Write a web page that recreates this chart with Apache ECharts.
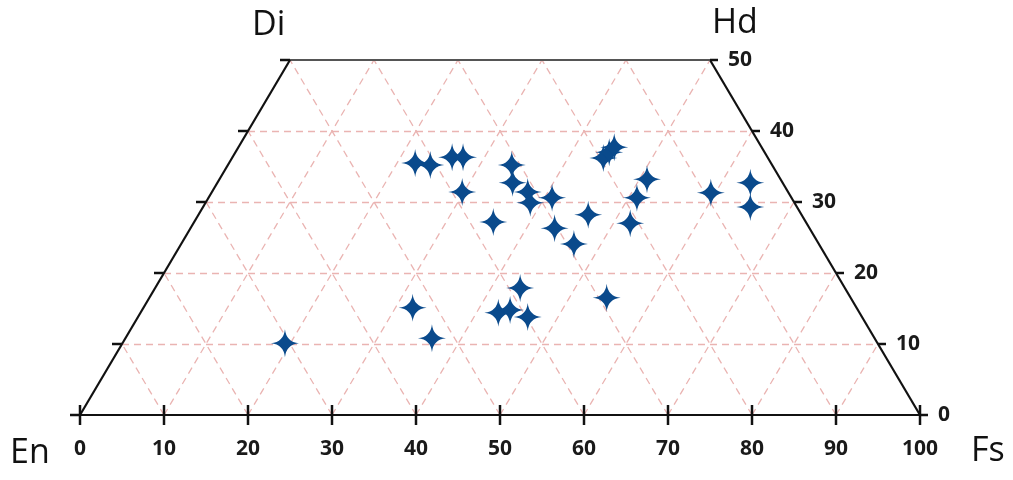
<!DOCTYPE html>
<html>
<head>
<meta charset="utf-8">
<script src="https://cdn.jsdelivr.net/npm/echarts@6/dist/echarts.min.js"></script>
<style>
  html, body { margin: 0; padding: 0; background: #fff; }
  #main { width: 1013px; height: 480px; }
</style>
</head>
<body>
<div id="main"></div>
<script>
// position along En-Fs base (0-100) and Wo content (0-50)
var samplesX = [24.4, 39.6, 41.9, 49.8, 51.2, 52.4, 53.3, 62.7,
  39.9, 41.7, 44.3, 45.6, 45.5, 49.2, 51.4, 51.5, 53.3, 53.6, 56.2, 56.5,
  58.8, 60.5, 62.3, 63.0, 63.6, 67.5, 66.3, 65.5, 75.1, 79.8, 79.8];
var samplesWo = [10.1, 15.1, 10.8, 14.4, 14.8, 17.9, 13.8, 16.5,
  35.5, 35.2, 36.3, 36.3, 31.4, 27.2, 35.2, 32.7, 31.4, 29.9, 30.6, 26.3,
  24.1, 28.2, 36.2, 37.0, 37.7, 33.2, 30.6, 27.0, 31.3, 32.7, 29.3];

var baseTicks = [0, 10, 20, 30, 40, 50, 60, 70, 80, 90, 100];
var woTicks = [0, 10, 20, 30, 40, 50];

var starPath = 'path://M0,-10 Q0.9,-0.9 10,0 Q0.9,0.9 0,10 Q-0.9,0.9 -10,0 Q-0.9,-0.9 0,-10Z';

// dashed grid inside the quadrilateral
var gridLines = [];
woTicks.forEach(function (w) {
  if (w > 0 && w < 50) gridLines.push({ coords: [[w / 2, w], [100 - w / 2, w]] });
});
baseTicks.forEach(function (k) {
  if (k === 0 || k === 100) return;
  // "/" direction
  if (k + 25 <= 75) gridLines.push({ coords: [[k, 0], [k + 25, 50]] });
  else gridLines.push({ coords: [[k, 0], [k + (100 - k) / 2, 100 - k]] });
  // "\" direction
  if (k <= 50) gridLines.push({ coords: [[k, 0], [k / 2, k]] });
  else gridLines.push({ coords: [[k, 0], [k - 25, 50]] });
});

var frame = [
  { coords: [[0, 0], [100, 0]] },
  { coords: [[100, 0], [75, 50]] },
  { coords: [[75, 50], [25, 50]], lineStyle: { color: '#555', width: 2 } },
  { coords: [[25, 50], [0, 0]] }
];

var points = samplesX.map(function (x, i) { return [x, samplesWo[i]]; });

var chart = echarts.init(document.getElementById('main'));
var option = {
  animation: false,
  grid: { left: 80, right: 93, top: 60, bottom: 65 },
  xAxis: {
    type: 'value', min: 0, max: 100, interval: 10,
    axisLine: { show: false }, axisTick: { show: false }, splitLine: { show: false },
    axisLabel: {
      margin: 24, color: '#1a1a1a', fontSize: 21, fontWeight: 'bold',
      fontFamily: 'Open Sans'
    }
  },
  yAxis: {
    type: 'value', min: 0, max: 50, show: false
  },
  graphic: [
    { type: 'text', left: 252, top: 8, style: { text: 'Di', fontSize: 34, fontFamily: 'Open Sans', fill: '#111' } },
    { type: 'text', left: 712, top: 6, style: { text: 'Hd', fontSize: 34, fontFamily: 'Open Sans', fill: '#111' } },
    { type: 'text', left: 10, top: 436, style: { text: 'En', fontSize: 34, fontFamily: 'Open Sans', fill: '#111' } },
    { type: 'text', left: 971, top: 434, style: { text: 'Fs', fontSize: 34, fontFamily: 'Open Sans', fill: '#111' } }
  ],
  series: [
    {
      type: 'lines', coordinateSystem: 'cartesian2d', silent: true,
      lineStyle: { color: '#eab4b2', width: 1.3, type: [7, 5], opacity: 1 },
      data: gridLines
    },
    {
      type: 'lines', coordinateSystem: 'cartesian2d', silent: true,
      lineStyle: { color: '#111', width: 2.2, opacity: 1 },
      data: frame
    },
    {
      // bottom ticks crossing the base line
      type: 'scatter', silent: true, symbol: 'rect', symbolSize: [2.5, 20],
      itemStyle: { color: '#111', opacity: 1 },
      data: baseTicks.map(function (k) { return [k, 0]; })
    },
    {
      // left edge ticks
      type: 'scatter', silent: true, symbol: 'rect', symbolSize: [10, 2.5],
      symbolOffset: [-5, 0], itemStyle: { color: '#111', opacity: 1 },
      data: woTicks.map(function (w) { return [w / 2, w]; })
    },
    {
      // right edge ticks with Wo labels
      type: 'scatter', silent: true, symbol: 'rect', symbolSize: [8, 2.5],
      symbolOffset: [4, 0], itemStyle: { color: '#111', opacity: 1 },
      label: {
        show: true, position: 'right', distance: 10,
        formatter: function (p) { return p.value[1]; },
        color: '#1a1a1a', fontSize: 21, fontWeight: 'bold', fontFamily: 'Open Sans'
      },
      data: woTicks.map(function (w) { return [100 - w / 2, w]; })
    },
    {
      type: 'scatter', symbol: starPath, symbolSize: 28,
      itemStyle: { color: '#0a4a8c', opacity: 1 },
      data: points, z: 5
    }
  ]
};
chart.setOption(option);
</script>
</body>
</html>
